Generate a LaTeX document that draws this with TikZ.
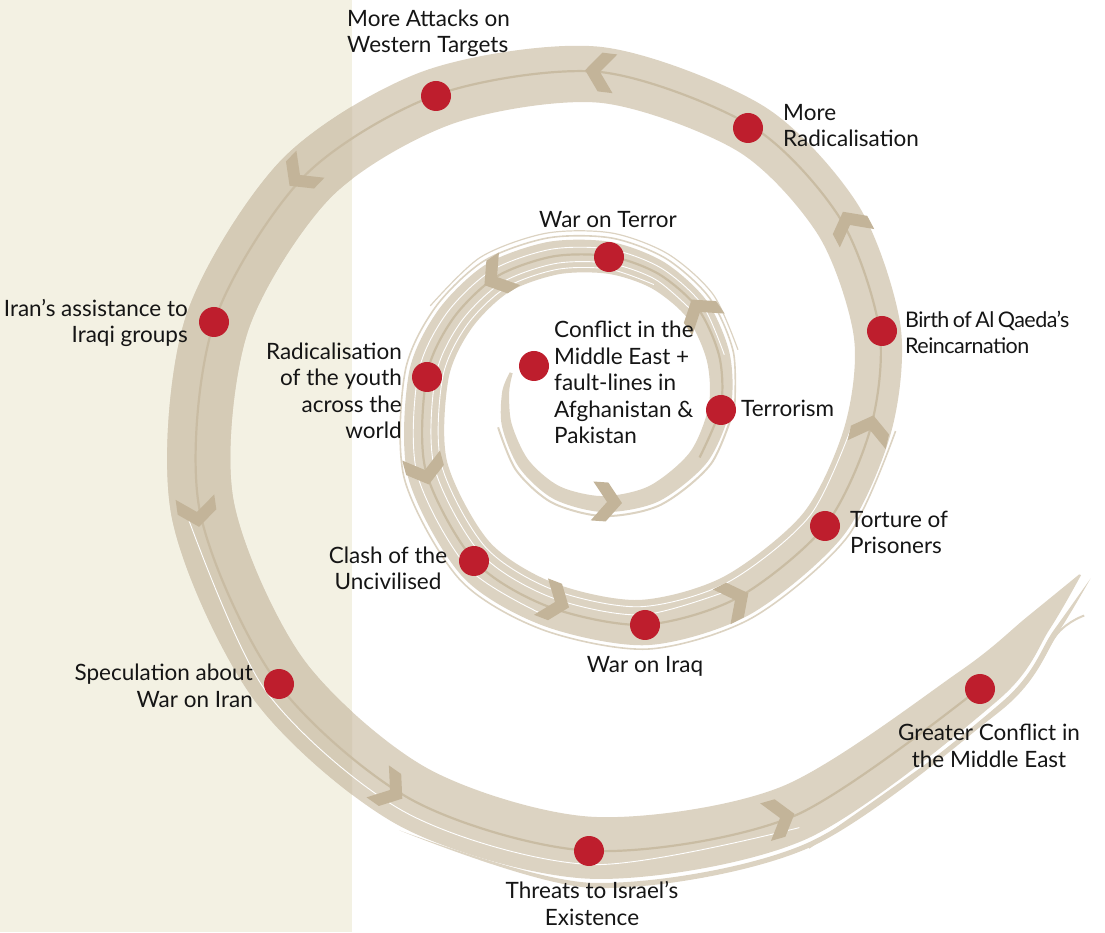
\documentclass[tikz,border=0pt]{standalone}
\usepackage{fontspec}
\setmainfont{Lato}
\newfontfamily\birthfont{Lato}[LetterSpace=-2.5,WordSpace=0.7]
\definecolor{band}{HTML}{DCD3C2}
\definecolor{bandc}{HTML}{D5CBB6}
\definecolor{darkline}{HTML}{C9BCA3}
\definecolor{chev}{HTML}{C3B499}
\definecolor{cream}{HTML}{F3F1E3}
\definecolor{dotred}{HTML}{BE1E2D}
\definecolor{ink}{HTML}{151515}
\tikzset{
  dot/.style={circle, fill=dotred, minimum size=30pt, inner sep=0pt},
  lab/.style={inner sep=0pt, text=ink, font=\fontsize{22.5}{26.5}\selectfont},
  chevron/.pic={\fill[chev] (-15,19.5) -- (0,19.5) -- (15,0) -- (0,-19.5) -- (-15,-19.5) -- (0,0) -- cycle;},
  streak/.style={white, line width=0.9pt},
}
\begin{document}
\begin{tikzpicture}[x=1pt,y=1pt]
\useasboundingbox (0,0) rectangle (1105,932);
\fill[cream] (0,0) rectangle (352,932);
\begin{scope}[shift={(600,532)}]
\foreach \t/\r/\w [count=\i] in {
 163/93/3, 175/95/7, 195/97/10, 220/100/12, 245/103/14, 272/105/16, 300/109/18,
 330/115/20, 357/121/22, 380/127/24, 403/134/26, 425/139/29, 446/144/32,
 468/151/34, 490/161/36, 511/168/38, 532/175/40, 562/188/42, 592/204/44,
 616/213/44, 641/229/46, 665/241/46, 691/258/46, 714/272/47, 734/288/48,
 757/301/50, 781/313/52, 810/328/56, 838/346/60, 863/371/62, 889/394/64,
 915/415/64, 941/429/64, 965/442/64, 989/451/62, 1015/459/58, 1043/477/48,
 1053/493/26, 1060/511/2}{
  \coordinate (c\i) at (\t:\r);
  \coordinate (o\i) at (\t:{\r+0.45*\w});
  \coordinate (n\i) at (\t:{\r-0.55*\w});
  \coordinate (sa\i) at (\t:{\r+0.22*\w});
  \coordinate (sb\i) at (\t:{\r-0.22*\w});
  \coordinate (sc\i) at (\t:{\r-0.40*\w});
  \coordinate (xo\i) at (\t:{\r+0.45*\w+4});
  \coordinate (xp\i) at (\t:{\r+0.45*\w+9});
}
\coordinate (tailA) at (1060:522);
\coordinate (tailB) at (1056:530);
\end{scope}
% main band
\fill[band] plot[smooth] coordinates {(o1) (o2) (o3) (o4) (o5) (o6) (o7) (o8) (o9) (o10) (o11) (o12) (o13) (o14) (o15) (o16) (o17) (o18) (o19) (o20) (o21) (o22) (o23) (o24) (o25) (o26) (o27) (o28) (o29) (o30) (o31) (o32) (o33) (o34) (o35) (o36) (o37) (o38) (o39)}
 -- plot[smooth] coordinates {(n39) (n38) (n37) (n36) (n35) (n34) (n33) (n32) (n31) (n30) (n29) (n28) (n27) (n26) (n25) (n24) (n23) (n22) (n21) (n20) (n19) (n18) (n17) (n16) (n15) (n14) (n13) (n12) (n11) (n10) (n9) (n8) (n7) (n6) (n5) (n4) (n3) (n2) (n1)} -- cycle;
\begin{scope}
\clip (0,0) rectangle (352,932);
\fill[bandc] plot[smooth] coordinates {(o1) (o2) (o3) (o4) (o5) (o6) (o7) (o8) (o9) (o10) (o11) (o12) (o13) (o14) (o15) (o16) (o17) (o18) (o19) (o20) (o21) (o22) (o23) (o24) (o25) (o26) (o27) (o28) (o29) (o30) (o31) (o32) (o33) (o34) (o35) (o36) (o37) (o38) (o39)}
 -- plot[smooth] coordinates {(n39) (n38) (n37) (n36) (n35) (n34) (n33) (n32) (n31) (n30) (n29) (n28) (n27) (n26) (n25) (n24) (n23) (n22) (n21) (n20) (n19) (n18) (n17) (n16) (n15) (n14) (n13) (n12) (n11) (n10) (n9) (n8) (n7) (n6) (n5) (n4) (n3) (n2) (n1)} -- cycle;
\end{scope}
% loose strands
\draw[band, line width=2pt] plot[smooth] coordinates {(xo3) (xo4) (xo5) (xo6) (xo7) (xo8) (xo9)};
\draw[band, line width=1.6pt] plot[smooth] coordinates {(xo9) (xo10) (xo11) (xo12) (xo13) (xo14) (xo15) (xo16) (xo17) (xo18) (xo19) (xo20) (xo21) (xo22) (xo23) (xo24)};
\draw[band, line width=1.2pt] plot[smooth] coordinates {(xp10) (xp11) (xp12) (xp13) (xp14) (xp15) (xp16)};
\fill[band] plot[smooth] coordinates {(xo34) (xo35) (xo36) (xo37) (xo38) (tailA)} -- plot[smooth] coordinates {(tailA) (xp38) (xp37) (xp36) (xp35) (xo34)} -- cycle;
\draw[band, line width=2pt] plot[smooth] coordinates {(xp36) (xp37) (xp38) (tailB)};
% white streaks
\draw[streak] plot[smooth] coordinates {(sa10) (sa11) (sa12) (sa13) (sa14) (sa15) (sa16) (sa17) (sa18) (sa19) (sa20)};
\draw[streak] plot[smooth] coordinates {(sb11) (sb12) (sb13) (sb14) (sb15) (sb16) (sb17) (sb18) (sb19) (sb20) (sb21) (sb22)};
\draw[streak] plot[smooth] coordinates {(sc12) (sc13) (sc14) (sc15) (sc16) (sc17) (sc18) (sc19) (sc20) (sc21) (sc22) (sc23) (sc24)};
\draw[streak] plot[smooth] coordinates {(sa32) (sa33) (sa34) (sa35) (sa36)};
% dark guide line
\draw[darkline, line width=2.2pt] plot[smooth] coordinates {(c8) (c9) (c10) (c11) (c12) (c13) (c14) (c15) (c16) (c17) (c18) (c19) (c20) (c21) (c22) (c23) (c24) (c25) (c26) (c27) (c28) (c29) (c30) (c31) (c32) (c33) (c34) (c35) (c36) (c37)};
% chevrons
\pic[rotate=356] at (607,430) {chevron};
\pic[rotate=124] at (700,620) {chevron};
\pic[rotate=213] at (497,655) {chevron};
\pic[rotate=285] at (425,462) {chevron};
\pic[rotate=339] at (555,330) {chevron};
\pic[rotate=27] at (735,332) {chevron};
\pic[rotate=77] at (870,502) {chevron};
\pic[rotate=118] at (850,707) {chevron};
\pic[rotate=173] at (600,860) {chevron};
\pic[rotate=226] at (300,757) {chevron};
\pic[rotate=278] at (197,420) {chevron};
\pic[rotate=325] at (390,142) {chevron};
\pic[rotate=16] at (780,114) {chevron};
% dots
\node[dot] (d1) at (534,566) {};
\node[dot] (d2) at (609,675) {};
\node[dot] (d3) at (721,522) {};
\node[dot] (d4) at (427,555) {};
\node[dot] (d5) at (474,371) {};
\node[dot] (d6) at (645,307) {};
\node[dot] (d7) at (825,406) {};
\node[dot] (d8) at (882,601) {};
\node[dot] (d9) at (748,804) {};
\node[dot] (d10) at (436,836) {};
\node[dot] (d11) at (214,610) {};
\node[dot] (d12) at (279,248) {};
\node[dot] (d13) at (589,81) {};
\node[dot] (d14) at (980,243) {};
% labels (base anchor = baseline of last line)
\node[lab, anchor=base west, align=left] (t10) at (347,879) {More Attacks on\\Western Targets};
\node[lab, anchor=base west, align=left] (t9) at (783,785) {More\\Radicalisation};
\node[lab, anchor=base] (t2) at (608,704) {War on Terror};
\node[lab, anchor=base west, align=left, font=\birthfont\fontsize{21.5}{26.5}\selectfont] (t8) at (905,578) {Birth of Al Qaeda’s\\Reincarnation};
\node[lab, anchor=base east, align=right] (t11) at (188,589) {Iran’s assistance to\\Iraqi groups};
\node[lab, anchor=base east, align=right] (t4) at (402,493) {Radicalisation\\of the youth\\across the\\world};
\node[lab, anchor=base west, align=left] (t1) at (554,488) {Conflict in the\\Middle East +\\fault-lines in\\Afghanistan \&\\Pakistan};
\node[lab, anchor=base west] (t3) at (741,515) {Terrorism};
\node[lab, anchor=base west, align=left] (t7) at (850,378) {Torture of\\Prisoners};
\node[lab, anchor=base, align=center] (t5) at (388,342) {Clash of the\\Uncivilised};
\node[lab, anchor=base] (t6) at (645,259) {War on Iraq};
\node[lab, anchor=base east, align=right] (t12) at (253,225) {Speculation about\\War on Iran};
\node[lab, anchor=base, align=center] (t13) at (592,7) {Threats to Israel’s\\Existence};
\node[lab, anchor=base, align=center] (t14) at (989,165) {Greater Conflict in\\the Middle East};
\end{tikzpicture}
\end{document}
